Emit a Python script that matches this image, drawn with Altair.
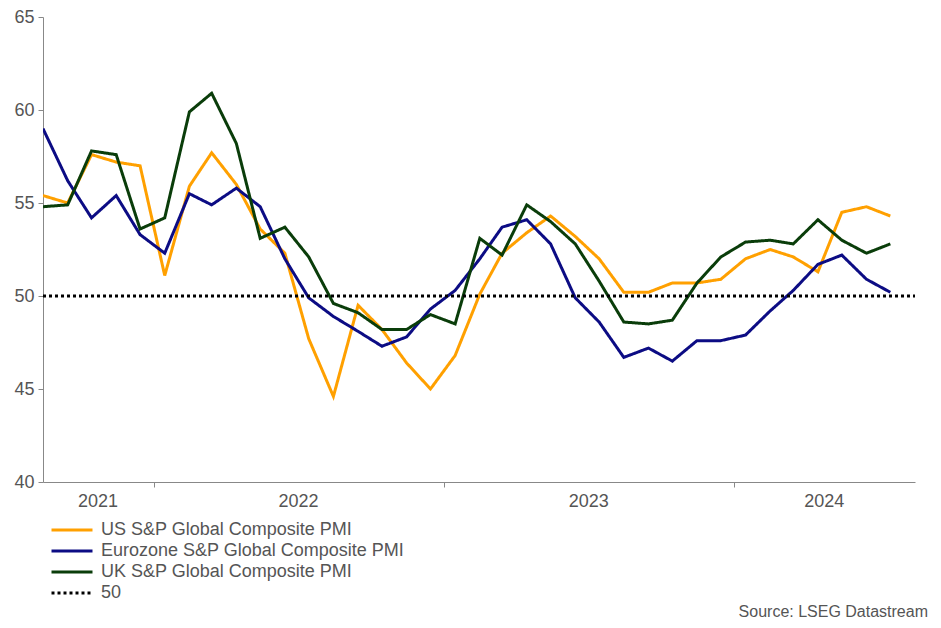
import altair as alt
import pandas as pd

months = pd.date_range("2021-08-01", periods=36, freq="MS") + pd.Timedelta(days=14)
months = [d.strftime("%Y-%m-%d") for d in months]

us = [55.4, 55.0, 57.6, 57.2, 57.0, 51.1, 55.9, 57.7, 56.0, 53.6, 52.3, 47.7,
      44.6, 49.5, 48.2, 46.4, 45.0, 46.8, 50.1, 52.3, 53.4, 54.3, 53.2, 52.0,
      50.2, 50.2, 50.7, 50.7, 50.9, 52.0, 52.5, 52.1, 51.3, 54.5, 54.8, 54.3]
ez = [59.0, 56.2, 54.2, 55.4, 53.3, 52.3, 55.5, 54.9, 55.8, 54.8, 52.0, 49.9,
      48.9, 48.1, 47.3, 47.8, 49.3, 50.3, 52.0, 53.7, 54.1, 52.8, 49.9, 48.6,
      46.7, 47.2, 46.5, 47.6, 47.6, 47.9, 49.2, 50.3, 51.7, 52.2, 50.9, 50.2]
uk = [54.8, 54.9, 57.8, 57.6, 53.6, 54.2, 59.9, 60.9, 58.2, 53.1, 53.7, 52.1,
      49.6, 49.1, 48.2, 48.2, 49.0, 48.5, 53.1, 52.2, 54.9, 54.0, 52.8, 50.8,
      48.6, 48.5, 48.7, 50.7, 52.1, 52.9, 53.0, 52.8, 54.1, 53.0, 52.3, 52.8]
ref_dates = ["2021-08-15", "2024-08-15"]
ref_vals = [50, 50]

series_names = ["US S&P Global Composite PMI", "Eurozone S&P Global Composite PMI",
                "UK S&P Global Composite PMI", "50"]
series_colors = ["#FFA000", "#0C0C84", "#0A3D0A", "#000000"]
series_dash = [[1, 0], [1, 0], [1, 0], [3, 3]]

year_labels = ["2021", "2022", "2023", "2024"]
year_label_dates = ["2021-10-23", "2022-07-02", "2023-07-02", "2024-04-23"]
year_ticks = ["2022-01-01", "2023-01-01", "2024-01-01"]
y_ticks = [40, 45, 50, 55, 60, 65]
source_text = "Source: LSEG Datastream"

rows = []
for name, vals in [(series_names[0], us), (series_names[1], ez), (series_names[2], uk)]:
    for d, v in zip(months, vals):
        rows.append({"date": d, "series": name, "value": v})
for d, v in zip(ref_dates, ref_vals):
    rows.append({"date": d, "series": series_names[3], "value": v})
df = pd.DataFrame(rows)

FONT = "Liberation Sans"
TXT = "#555555"

legend = alt.Legend(
    title=None, orient="none", legendX=7, legendY=504, direction="vertical",
    symbolType="stroke", symbolSize=1681, symbolStrokeWidth=3, clipHeight=18,
    labelFontSize=18, labelFont=FONT, labelColor=TXT, labelOffset=7,
    rowPadding=3, padding=0, labelLimit=500,
)

x_scale = alt.Scale(domain=ref_dates)

lines = alt.Chart(df).mark_line(strokeWidth=3, clip=True).encode(
    x=alt.X("date:T", scale=x_scale,
            axis=alt.Axis(title=None, labels=False, values=year_ticks, tickSize=5,
                          tickColor="#888888", domainColor="#888888", grid=False)),
    y=alt.Y("value:Q", scale=alt.Scale(domain=[40, 65], nice=False, zero=False),
            axis=alt.Axis(title=None, values=y_ticks, tickSize=5, labelFontSize=18,
                          labelFont=FONT, labelColor=TXT, labelPadding=4,
                          tickColor="#888888", domainColor="#888888", grid=False)),
    color=alt.Color("series:N", scale=alt.Scale(domain=series_names, range=series_colors),
                    legend=legend),
    strokeDash=alt.StrokeDash("series:N", scale=alt.Scale(domain=series_names, range=series_dash),
                              legend=legend),
    order=alt.Order("date:T"),
)

years_df = pd.DataFrame({"date": year_label_dates, "label": year_labels})
years = alt.Chart(years_df).mark_text(
    fontSize=18, font=FONT, color=TXT, baseline="middle", align="center"
).encode(
    x=alt.X("date:T", scale=x_scale),
    y=alt.value(485),
    text="label:N",
)

src_df = pd.DataFrame({"text": [source_text]})
source = alt.Chart(src_df).mark_text(
    fontSize=16, font=FONT, color=TXT, align="right", baseline="middle"
).encode(
    x=alt.value(885), y=alt.value(595), text="text:N"
)

chart = alt.layer(lines, years, source).properties(
    width=872, height=465, background="white",
    autosize=alt.AutoSizeParams(type="none"),
    padding={"left": 35, "top": 9, "right": 18, "bottom": 138},
).configure_view(stroke=None)

chart.save("out.html", embed_options={"renderer": "svg", "actions": False})
